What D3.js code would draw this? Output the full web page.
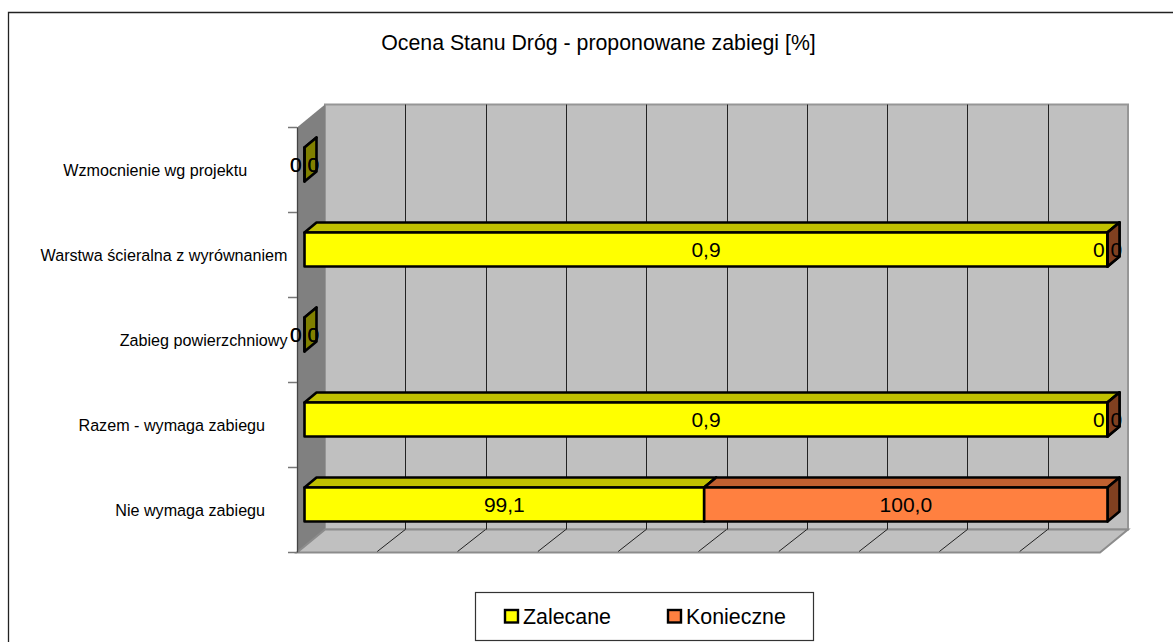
<!DOCTYPE html>
<html><head><meta charset="utf-8">
<script src="https://cdn.jsdelivr.net/npm/d3@7/dist/d3.min.js"></script>
<style>
html,body{margin:0;padding:0;background:#fff;overflow:hidden}
svg{display:block}
text{font-family:"Liberation Sans",Arial,sans-serif;fill:#000;white-space:pre}
</style></head><body>
<svg id="c" width="1173" height="642" xml:space="preserve"></svg>
<script>
const title = "Ocena Stanu Dróg - proponowane zabiegi [%]";
const categories = ["Nie wymaga zabiegu     ","Razem - wymaga zabiegu     ","Zabieg powierzchniowy","Warstwa ścieralna z wyrównaniem","Wzmocnienie wg projektu         "];
const zalecane = [99.1,0.9,0.0,0.9,0.0];
const konieczne = [100.0,0.0,0.0,0.0,0.0];
const seriesNames = ["Zalecane","Konieczne"];
const axisTicks = [0,10,20,30,40,50,60,70,80,90,100];
const faceColors = ["#ffff00","#ff8040"];
const topColors = ["#c0c000","#c06030"];
const sideColors = ["#808000","#804020"];

const svg = d3.select("#c");
const fmt = v => v.toFixed(1).replace(".",",");

// Chart frame
svg.append("path").attr("d","M8.5,642V12.5H1173").attr("fill","none").attr("stroke","#222").attr("stroke-width",1.3);
svg.append("text").attr("x",598.5).attr("y",50).attr("text-anchor","middle").attr("font-size",21.3).text(title);

// Projection geometry
const wall = {dx:28, dy:23};
const bar = {dx:12, dy:10, inset:7.5};
const x = d3.scaleLinear().domain([0,100]).range([297,1100]);
const y = d3.scaleBand().domain(categories).range([552.5,127.5]);
const pts = a => a.map(p=>p.join(",")).join(" ");

const [x0,x1] = x.range(), yB = y.range()[0], yT = y.range()[1];
// back wall
svg.append("polygon").attr("points",pts([[x0+wall.dx,yT-wall.dy],[x1+wall.dx,yT-wall.dy],[x1+wall.dx,yB-wall.dy],[x0+wall.dx,yB-wall.dy]]))
  .attr("fill","#c0c0c0").attr("stroke","#969696").attr("stroke-width",2);
// side wall
svg.append("polygon").attr("points",pts([[x0,yT],[x0+wall.dx,yT-wall.dy],[x0+wall.dx,yB-wall.dy],[x0,yB]]))
  .attr("fill","#808080");
// floor
svg.append("polygon").attr("points",pts([[x0,yB],[x1,yB],[x1+wall.dx,yB-wall.dy],[x0+wall.dx,yB-wall.dy]]))
  .attr("fill","#c0c0c0").attr("stroke","#8c8c8c").attr("stroke-width",2).attr("stroke-linejoin","miter");
// gridlines
const inner = axisTicks.slice(1,-1);
svg.append("g").selectAll("line").data(inner).join("line")
  .attr("x1",d=>Math.round(x(d)+wall.dx)+.5).attr("x2",d=>Math.round(x(d)+wall.dx)+.5)
  .attr("y1",yT-wall.dy).attr("y2",yB-wall.dy).attr("stroke","#222").attr("stroke-width",1);
svg.append("g").selectAll("line").data(inner).join("line")
  .attr("x1",d=>x(d)+wall.dx).attr("x2",d=>x(d))
  .attr("y1",yB-wall.dy).attr("y2",yB-1).attr("stroke","#222").attr("stroke-width",1);
// y axis
svg.append("line").attr("x1",x0+.5).attr("x2",x0+.5).attr("y1",yT).attr("y2",yB).attr("stroke","#444").attr("stroke-width",1.3);
const tickYs = categories.map(c=>y(c)+y.bandwidth()).concat([yT]);
svg.append("g").selectAll("line").data(tickYs).join("line")
  .attr("x1",x0-9).attr("x2",x0).attr("y1",d=>d).attr("y2",d=>d).attr("stroke","#777").attr("stroke-width",1.5);
svg.append("g").selectAll("text").data(categories).join("text")
  .attr("x",287.5).attr("y",c=>y(c)+y.bandwidth()/2+5.5).attr("text-anchor","end").attr("font-size",16.15).text(c=>c);

// Bars: each row stacked to 100%
const barH = 34;
const rows = categories.map((c,i)=>{
  const a = zalecane[i], b = konieczne[i], t = a+b;
  return {c,i,a,b,s:[t?a/t*100:0,t?b/t*100:0],t};
});
const gx = v => x(v)+bar.inset;
function cuboid(g,xa,xb,yt,k){
  const yb=yt+barH, st={"stroke":"#000","stroke-width":2.6,"stroke-linejoin":"round"};
  const add=(p,f)=>{const e=g.append("polygon").attr("points",pts(p)).attr("fill",f);Object.entries(st).forEach(([n,v])=>e.attr(n,v));};
  add([[xa,yt],[xa+bar.dx,yt-bar.dy],[xb+bar.dx,yt-bar.dy],[xb,yt]],topColors[k]);
  add([[xb,yt],[xb+bar.dx,yt-bar.dy],[xb+bar.dx,yb-bar.dy],[xb,yb]],sideColors[k]);
  add([[xa,yt],[xb,yt],[xb,yb],[xa,yb]],faceColors[k]);
}
const barsG = svg.append("g");
rows.forEach(r=>{
  const yt = y(r.c)+y.bandwidth()/2-barH/2-5.5;
  if(r.t>0){
    cuboid(barsG,gx(0),gx(r.s[0]),yt,0);
    cuboid(barsG,gx(r.s[0]),gx(100),yt,1);
  } else cuboid(barsG,gx(0),gx(0),yt,0);
});
// labels
const labelsG = svg.append("g");
rows.forEach(r=>{
  const cy = y(r.c)+y.bandwidth()/2-5.5+7;
  labelsG.append("text").attr("x",gx(r.s[0]/2)).attr("y",cy).attr("text-anchor","middle").attr("font-size",21).text(fmt(r.a));
  labelsG.append("text").attr("x",gx(r.s[0]+r.s[1]/2)).attr("y",cy).attr("text-anchor","middle").attr("font-size",21).text(fmt(r.b));
});

// Legend
const leg = svg.append("g");
leg.append("rect").attr("x",475.5).attr("y",592.5).attr("width",338).attr("height",48).attr("fill","#fff").attr("stroke","#333").attr("stroke-width",1.2);
const legX = d3.scaleOrdinal().domain(seriesNames).range([505,668]);
seriesNames.forEach((n,i)=>{
  leg.append("rect").attr("x",legX(n)).attr("y",610).attr("width",13).attr("height",12.5).attr("fill",faceColors[i]).attr("stroke","#000").attr("stroke-width",2.4);
  leg.append("text").attr("x",legX(n)+18).attr("y",624).attr("font-size",21.4).text(n);
});
</script></body></html>
